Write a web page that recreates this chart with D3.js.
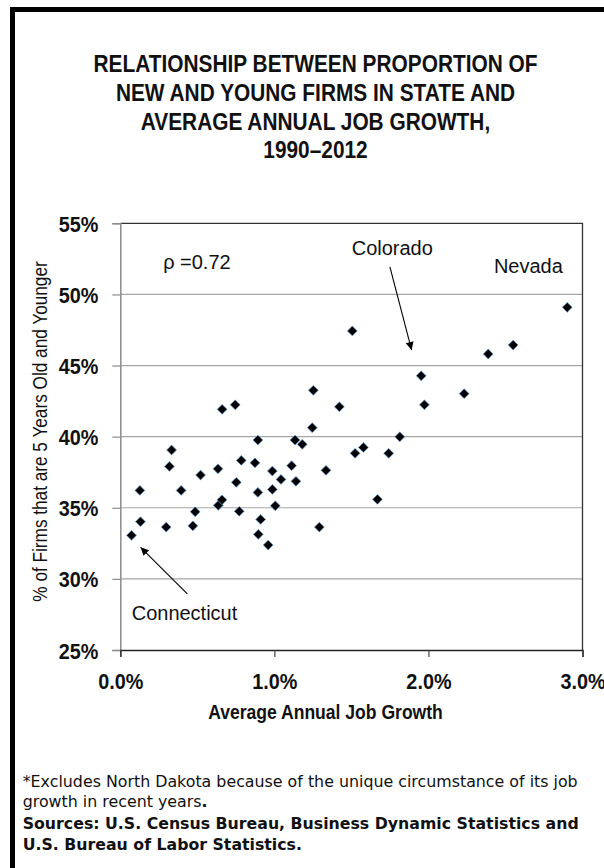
<!DOCTYPE html>
<html><head><meta charset="utf-8">
<script src="https://cdn.jsdelivr.net/npm/d3@7"></script>
<style>body{margin:0;background:#fff;overflow:hidden} svg{display:block}</style>
</head><body>
<svg id="c" width="604" height="868"></svg>
<script>
// ---------- data ----------
const titleLines = [
  "RELATIONSHIP BETWEEN PROPORTION OF",
  "NEW AND YOUNG FIRMS IN STATE AND",
  "AVERAGE ANNUAL JOB GROWTH,",
  "1990\u20132012"
];
// average annual job growth, % (x)
const jobGrowth = [0.073,0.127,0.131,0.298,0.319,0.333,0.395,0.471,0.486,0.521,
  0.634,0.636,0.660,0.661,0.746,0.753,0.772,0.785,0.874,0.893,
  0.893,0.896,0.911,0.960,0.987,0.987,1.006,1.043,1.112,1.134,
  1.140,1.181,1.246,1.253,1.292,1.335,1.422,1.506,1.524,1.578,
  1.669,1.742,1.814,1.953,1.974,2.232,2.388,2.550,2.901];
// % of firms that are 5 years old and younger (y)
const youngFirmShare = [33.06,36.22,34.02,33.64,37.91,39.06,36.22,33.73,34.72,37.30,
  37.74,35.17,35.56,41.92,42.24,36.79,34.75,38.33,38.16,39.76,
  36.08,33.13,34.18,32.38,37.58,36.29,35.14,36.99,37.96,39.76,
  36.86,39.46,40.63,43.26,33.64,37.63,42.10,47.43,38.83,39.24,
  35.59,38.83,39.99,44.28,42.24,43.02,45.81,46.44,49.09];
const xTicks = [0, 1, 2, 3];
const xTickLabels = ["0.0%", "1.0%", "2.0%", "3.0%"];
const yTicks = [25, 30, 35, 40, 45, 50, 55];
const yTickLabels = ["25%", "30%", "35%", "40%", "45%", "50%", "55%"];
const xTitle = "Average Annual Job Growth";
const yTitle = "% of Firms that are 5 Years Old and Younger";
const labelTexts = ["\u03C1 =0.72", "Colorado", "Nevada", "Connecticut"];
const labelX = [0.278, 1.502, 2.425, 0.074];
const labelY = [51.77, 52.77, 51.49, 27.11];
const arrowNames = ["Colorado", "Connecticut"];
const arrowFromX = [1.750, 0.435];
const arrowFromY = [51.93, 28.94];
const arrowToX = [1.891, 0.132];
const arrowToY = [46.09, 32.22];
const footLines = [
  [{t:"*Excludes North Dakota because of the unique circumstance of its job", b:false}],
  [{t:"growth in recent years", b:false}, {t:".", b:true}],
  [{t:"Sources: U.S. Census Bureau, Business Dynamic Statistics and", b:true}],
  [{t:"U.S. Bureau of Labor Statistics.", b:true}]
];

// ---------- drawing ----------
const NARROW = "'Liberation Sans Narrow','Arial Narrow','Liberation Sans',Arial,sans-serif";
const REG = "'Liberation Sans',Arial,sans-serif";
const FOOT = "Tahoma,'DejaVu Sans',Verdana,sans-serif";
const svg = d3.select("#c");

function squeeze(sel, ratio) {
  sel.each(function() {
    const w = this.getComputedTextLength();
    d3.select(this).attr("textLength", w * ratio).attr("lengthAdjust", "spacingAndGlyphs");
  });
}

svg.append("rect").attr("width",604).attr("height",868).attr("fill","#fff");
// frame (top + left edges visible)
svg.append("path").attr("d","M12.5,880 V9.5 H620").attr("fill","none")
  .attr("stroke","#000").attr("stroke-width",5);

// title
const tt = svg.append("g").selectAll("text").data(titleLines).join("text")
  .attr("x", 315.5).attr("y", (d,i) => 71.7 + i*28.9)
  .attr("text-anchor","middle")
  .style("font-family", NARROW).style("font-weight","bold").style("font-size","24px")
  .attr("fill","#111").text(d => d);
const t0 = tt.node().getComputedTextLength();
squeeze(tt, 444 / t0);

const x = d3.scaleLinear().domain([0,3]).range([120.3, 582.5]);
const y = d3.scaleLinear().domain([25,55]).range([650, 223.3]);

// gridlines
svg.append("g").selectAll("line").data(yTicks.filter(v => v>25 && v<55)).join("line")
  .attr("x1", x(0)).attr("x2", x(3)).attr("y1", d=>y(d)).attr("y2", d=>y(d))
  .attr("stroke","#a6a6a6").attr("stroke-width",1.2);

// plot border top/right
svg.append("path").attr("d",`M${x(0)},${y(55)} H${x(3)} V${y(25)}`)
  .attr("fill","none").attr("stroke","#333").attr("stroke-width",1.3);

// y axis
const yAxis = svg.append("g").attr("transform",`translate(${x(0)},0)`)
  .call(d3.axisLeft(y).tickValues(yTicks).tickSize(8).tickPadding(14)
    .tickFormat((d,i) => yTickLabels[i]));
yAxis.select(".domain").attr("stroke","#8c8c8c").attr("stroke-width",1.5);
yAxis.selectAll(".tick line").attr("stroke","#8c8c8c").attr("stroke-width",1.2);
const ytx = yAxis.selectAll(".tick text").style("font-family",NARROW).style("font-weight","bold")
  .style("font-size","22.5px").attr("fill","#111").attr("dy","0.36em");
squeeze(ytx, 0.88);

// x axis
const xAxis = svg.append("g").attr("transform",`translate(0,${y(25)})`)
  .call(d3.axisBottom(x).tickValues(xTicks).tickSize(7).tickPadding(0)
    .tickFormat((d,i) => xTickLabels[i]));
xAxis.select(".domain").attr("stroke","#222").attr("stroke-width",1.5);
xAxis.selectAll(".tick line").attr("stroke","#444").attr("stroke-width",1.2);
const xtx = xAxis.selectAll(".tick text").attr("y", 39).attr("dy", 0)
  .style("font-family",NARROW).style("font-weight","bold")
  .style("font-size","22.5px").attr("fill","#111");
squeeze(xtx, 0.88);

// axis titles
const xt = svg.append("text").attr("x", 325.5).attr("y", 719).attr("text-anchor","middle")
  .style("font-family",NARROW).style("font-weight","bold").style("font-size","19.5px")
  .attr("fill","#111").text(xTitle);
squeeze(xt, 0.9);
const yt = svg.append("text").attr("transform","translate(46.5,431.5) rotate(-90)")
  .attr("text-anchor","middle")
  .style("font-family",NARROW).style("font-size","20px")
  .attr("fill","#111").text(yTitle);
squeeze(yt, 0.86);

// points
const pts = jobGrowth.map((v,i) => ({x:v, y:youngFirmShare[i]}));
const diamond = d3.symbol().type(d3.symbolSquare).size(48);
svg.append("g").selectAll("path").data(pts).join("path")
  .attr("d", diamond)
  .attr("transform", d => `translate(${x(d.x)},${y(d.y)}) rotate(45)`)
  .attr("fill","#000").attr("stroke","#5b8fc9").attr("stroke-width",0.7);

// annotations
svg.append("defs").append("marker").attr("id","ah")
  .attr("viewBox","0 0 10 10").attr("refX",10).attr("refY",5)
  .attr("markerWidth",11).attr("markerHeight",8).attr("markerUnits","userSpaceOnUse")
  .attr("orient","auto")
  .append("path").attr("d","M0,0 L10,5 L0,10 z").attr("fill","#000");
svg.append("g").selectAll("line").data(arrowNames).join("line")
  .attr("x1",(d,i)=>x(arrowFromX[i])).attr("y1",(d,i)=>y(arrowFromY[i]))
  .attr("x2",(d,i)=>x(arrowToX[i])).attr("y2",(d,i)=>y(arrowToY[i]))
  .attr("stroke","#000").attr("stroke-width",1.1).attr("marker-end","url(#ah)");
svg.append("g").selectAll("text").data(labelTexts).join("text")
  .attr("x",(d,i)=>x(labelX[i])).attr("y",(d,i)=>y(labelY[i]))
  .style("font-family",REG).style("font-size","20px").attr("fill","#111")
  .text(d=>d);

// footnotes
const fy = [786.7, 806.5, 829.3, 850];
const ft = svg.append("g");
const fnodes = footLines.map((line,i) => {
  const t = ft.append("text").attr("x",22.7).attr("y",fy[i])
    .style("font-family",FOOT).style("font-size","15px").attr("fill","#111");
  line.forEach(s => t.append("tspan").style("font-weight", s.b ? "bold" : "normal").text(s.t));
  return t;
});
const r1 = 555 / fnodes[0].node().getComputedTextLength();
const r3 = 556 / fnodes[2].node().getComputedTextLength();
squeeze(fnodes[0], r1); squeeze(fnodes[1], r1);
squeeze(fnodes[2], r3); squeeze(fnodes[3], r3);
</script>
</body></html>
